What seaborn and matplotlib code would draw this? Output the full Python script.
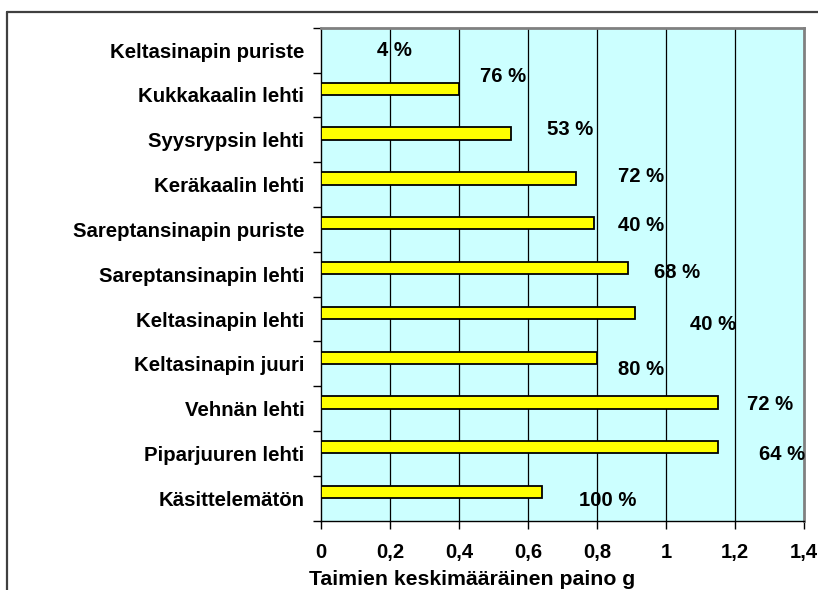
import matplotlib
matplotlib.use("Agg")
import matplotlib.pyplot as plt
import seaborn as sns
import pandas as pd
from matplotlib.lines import Line2D
from matplotlib.ticker import FixedLocator

categories = ["Keltasinapin puriste", "Kukkakaalin lehti", "Syysrypsin lehti",
              "Keräkaalin lehti", "Sareptansinapin puriste", "Sareptansinapin lehti",
              "Keltasinapin lehti", "Keltasinapin juuri", "Vehnän lehti",
              "Piparjuuren lehti", "Käsittelemätön"]
weights = [0.0, 0.40, 0.55, 0.74, 0.79, 0.89, 0.91, 0.80, 1.15, 1.15, 0.64]
pct_labels = ["4 %", "76 %", "53 %", "72 %", "40 %", "68 %", "40 %", "80 %",
              "72 %", "64 %", "100 %"]
# label anchor positions (x in g, y offset in category units)
label_x = [0.212, 0.527, 0.723, 0.928, 0.928, 1.032, 1.137, 0.928, 1.302, 1.337, 0.831]
label_dy = [0.0, -0.40, -0.22, -0.18, -0.08, -0.04, 0.13, 0.12, -0.10, 0.02, 0.04]
xticks = [0, 0.2, 0.4, 0.6, 0.8, 1.0, 1.2, 1.4]
xtick_labels = ["0", "0,2", "0,4", "0,6", "0,8", "1", "1,2", "1,4"]
xlabel = "Taimien keskimääräinen paino g"

sns.set_theme(style="white")
plt.rcParams["font.family"] = ["Liberation Sans", "DejaVu Sans"]
plt.rcParams["font.weight"] = "bold"
for k in ["text.color", "axes.labelcolor", "xtick.color", "ytick.color"]:
    plt.rcParams[k] = "black"

W, H = 818, 590
fig = plt.figure(figsize=(W / 100, H / 100), dpi=100)
fig.patch.set_facecolor("white")
ax = fig.add_axes([321.3 / W, 1 - 520.7 / H, (804 - 321.3) / W, (520.7 - 27.7) / H])
ax.set_facecolor("#CCFFFF")

df = pd.DataFrame({"cat": categories, "w": weights})
sns.barplot(data=df, y="cat", x="w", orient="h", color="#FFFF00", saturation=1,
            width=0.275, edgecolor="black", linewidth=1.3, ax=ax, zorder=3)
# Excel-style clustered bar: first series sits above the category centre
for p in ax.patches:
    p.set_y(p.get_y() - 0.1375)

for i, (t, lx, dy) in enumerate(zip(pct_labels, label_x, label_dy)):
    ax.text(lx, i + dy, t, ha="center", va="center", fontsize=14.6,
            fontweight="bold", color="black", zorder=5)

ax.set_xlim(0, 1.4)
ax.set_ylim(len(categories) - 0.5, -0.5)
ax.xaxis.set_major_locator(FixedLocator(xticks))
ax.set_xticklabels(xtick_labels, fontsize=14.6, fontweight="bold", color="black")
ax.set_yticks(range(len(categories)))
ax.set_yticklabels(categories, fontsize=14.7, fontweight="bold", color="black")
ax.yaxis.set_minor_locator(FixedLocator([i - 0.5 for i in range(len(categories) + 1)]))
ax.tick_params(axis="y", which="major", length=0, pad=12.2)
ax.tick_params(axis="y", which="minor", length=6, width=1, color="black", direction="out", left=True)
ax.tick_params(axis="x", which="major", length=6, width=1, color="black", direction="out",
               bottom=True, pad=10)

ax.grid(False)
for xv in xticks[1:-1]:
    ax.axvline(xv, color="black", linewidth=0.9, zorder=1)

ax.set_xlabel(xlabel, fontsize=15.3, fontweight="bold", color="black")
ax.xaxis.set_label_coords(0.313, -0.120)
ax.xaxis.label.set_verticalalignment("center")
ax.set_ylabel("")

for s in ["top", "right"]:
    ax.spines[s].set_color("#808080")
    ax.spines[s].set_linewidth(2)
for s in ["left", "bottom"]:
    ax.spines[s].set_color("black")
    ax.spines[s].set_linewidth(1)
    ax.spines[s].set_visible(True)

# outer chart frame (extends beyond the image on right and bottom)
fig.add_artist(Line2D([7 / W, 1.0], [1 - 12 / H, 1 - 12 / H], color="#404040", linewidth=1.6))
fig.add_artist(Line2D([7 / W, 7 / W], [0.0, 1 - 12 / H], color="#404040", linewidth=1.6))

fig.savefig("out.png", dpi=100)
